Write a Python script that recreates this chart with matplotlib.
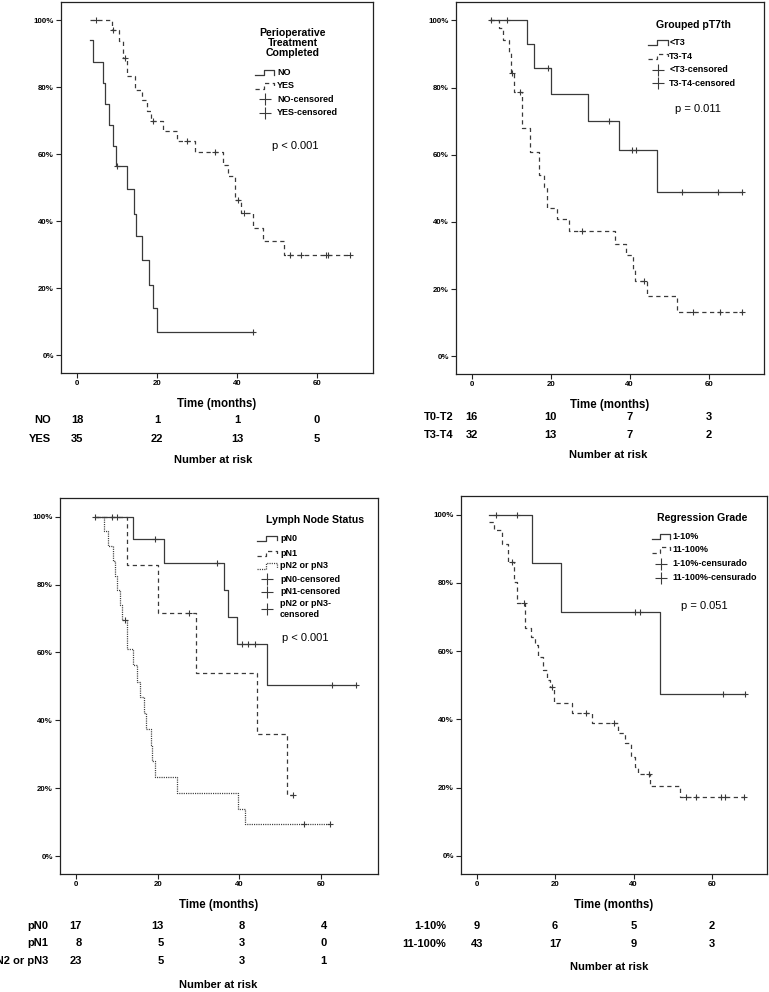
import matplotlib
matplotlib.use('Agg')
import matplotlib.pyplot as plt
from matplotlib.lines import Line2D
from matplotlib.transforms import blended_transform_factory

plt.rcParams['font.family'] = ['Liberation Sans', 'DejaVu Sans']

W, H = 769, 992

# ---- Perioperative treatment completed ----
no_t = [3.3, 4.0, 6.5, 7.1, 7.9, 9.1, 9.8, 12.6, 14.3, 14.8, 16.2, 18.1, 19.1, 20.0, 44.0]
no_s = [94.2, 87.6, 81.4, 75.0, 68.9, 62.6, 56.4, 49.7, 42.3, 35.5, 28.3, 21.1, 14.1, 7.0, 7.0]
no_ct = [10.0, 44.0]
no_cs = [56.4, 7.0]
yes_t = [3.3, 8.7, 10.4, 11.5, 12.5, 14.4, 16.2, 17.5, 18.4, 21.4, 24.9, 29.5, 36.6, 37.8,
         39.5, 41.1, 44.0, 46.5, 51.8, 68.2]
yes_s = [100, 97.2, 93.9, 88.8, 83.3, 79.3, 76.3, 72.8, 70.1, 66.9, 63.9, 60.7, 56.9, 53.4,
         46.5, 42.5, 38.0, 34.0, 29.8, 29.8]
yes_ct = [4.7, 9.1, 12.0, 19.1, 27.6, 34.5, 40.2, 41.8, 53.2, 56.0, 62.2, 62.7, 68.2]
yes_cs = [100, 97.2, 88.8, 70.1, 63.9, 60.7, 46.5, 42.5, 29.8, 29.8, 29.8, 29.8, 29.8]
risk_no = [18, 1, 1, 0]
risk_yes = [35, 22, 13, 5]

# ---- Grouped pT7th ----
lt3_t = [4.6, 13.9, 15.8, 20.0, 29.5, 37.3, 46.8, 68.4]
lt3_s = [100, 93.0, 85.8, 78.0, 70.2, 61.4, 49.0, 49.0]
lt3_ct = [4.9, 9.0, 19.2, 34.8, 40.5, 41.6, 53.3, 62.4, 68.4]
lt3_cs = [100, 100, 85.8, 70.2, 61.4, 61.4, 49.0, 49.0, 49.0]
t34_t = [4.6, 7.0, 8.0, 9.5, 10.0, 10.7, 12.7, 14.8, 16.9, 18.3, 19.0, 21.5, 24.7, 36.3,
         39.0, 40.9, 41.3, 44.3, 51.9, 68.4]
t34_s = [100, 97.7, 94.2, 90.7, 84.5, 78.8, 68.1, 60.9, 54.1, 50.4, 44.2, 41.0, 37.3, 33.5,
         30.1, 26.1, 22.3, 17.9, 13.3, 13.3]
t34_ct = [10.3, 12.2, 27.8, 43.6, 56.0, 62.9, 68.4]
t34_cs = [84.5, 78.8, 37.3, 22.3, 13.3, 13.3, 13.3]
risk_t02 = [16, 10, 7, 3]
risk_t34 = [32, 13, 7, 2]

# ---- Lymph node status ----
pn0_t = [4.7, 13.9, 21.5, 36.2, 37.2, 39.4, 46.7, 68.5]
pn0_s = [100, 93.4, 86.3, 78.4, 70.5, 62.6, 50.3, 50.3]
pn0_ct = [4.7, 8.8, 10.0, 19.2, 34.6, 40.6, 42.0, 43.8, 62.7, 68.5]
pn0_cs = [100, 100, 100, 93.4, 86.3, 62.6, 62.6, 62.6, 50.3, 50.3]
pn1_t = [4.7, 12.5, 20.0, 29.4, 44.3, 51.8, 53.2]
pn1_s = [100, 85.8, 71.5, 53.8, 36.0, 18.0, 18.0]
pn1_ct = [27.6, 53.2]
pn1_cs = [71.5, 18.0]
pn23_t = [5.0, 6.7, 7.7, 9.0, 9.6, 10.0, 10.6, 11.2, 12.5, 13.9, 14.8, 15.6, 16.6, 17.2,
          18.2, 18.6, 19.2, 24.6, 39.7, 41.4, 62.2]
pn23_s = [100, 95.7, 91.3, 87.0, 82.6, 78.3, 73.9, 69.6, 60.9, 56.2, 51.4, 46.8, 42.1, 37.4,
          32.8, 28.1, 23.4, 18.7, 14.0, 9.4, 9.4]
pn23_ct = [12.0, 55.9, 62.2]
pn23_cs = [69.6, 9.4, 9.4]
risk_pn0 = [17, 13, 8, 4]
risk_pn1 = [8, 5, 3, 0]
risk_pn23 = [23, 5, 3, 1]

# ---- Regression grade ----
g1_t = [3.2, 14.0, 21.5, 46.7, 68.3]
g1_s = [100, 85.8, 71.6, 47.6, 47.6]
g1_ct = [4.9, 10.3, 40.3, 41.6, 62.8, 68.3]
g1_cs = [100, 100, 71.6, 71.6, 47.6, 47.6]
g2_t = [3.2, 4.3, 6.4, 7.9, 9.4, 10.4, 12.4, 13.8, 14.8, 15.7, 16.8, 17.9, 18.6, 19.6,
        24.4, 29.3, 36.0, 37.7, 39.4, 40.3, 41.0, 44.3, 51.8, 68.1]
g2_s = [97.8, 95.6, 91.5, 86.3, 80.2, 74.1, 66.9, 64.2, 61.8, 58.4, 54.5, 51.6, 49.5, 44.7,
        41.8, 39.1, 36.0, 33.0, 29.1, 26.2, 24.1, 20.6, 17.2, 17.2]
g2_ct = [8.9, 12.1, 19.2, 27.8, 34.9, 43.9, 53.3, 56.0, 62.3, 63.2, 68.1]
g2_cs = [86.3, 74.1, 49.5, 41.8, 39.1, 24.1, 17.2, 17.2, 17.2, 17.2, 17.2]
risk_g1 = [9, 6, 5, 2]
risk_g2 = [43, 17, 9, 3]

risk_times = [0, 20, 40, 60]

LC = '#3a3a3a'
solid = dict(color=LC, lw=0.9, ls='-')
dashed = dict(color=LC, lw=0.9, ls=(0, (3.4, 2.8)))
dotted = dict(color=LC, lw=0.9, ls=(0, (0.9, 0.9)))

fig = plt.figure(figsize=(W / 100, H / 100), dpi=100)


def fy(y):
    return 1 - y / H


def ftext(x, y, s, **kw):
    fig.text(x / W, fy(y), s, **kw)


def fline(xs, ys, **kw):
    fig.add_artist(Line2D([x / W for x in xs], [fy(y) for y in ys],
                          transform=fig.transFigure, **kw))


def panel(l, t, r, b):
    ax = fig.add_axes([l / W, fy(b), (r - l) / W, (b - t) / H])
    ax.set_xlim(-4, 74)
    ax.set_ylim(-5.3, 105.5)
    ax.set_xticks([0, 20, 40, 60])
    ax.set_yticks([0, 20, 40, 60, 80, 100])
    ax.set_yticklabels([f'{v}%' for v in range(0, 101, 20)])
    ax.tick_params(labelsize=5.7, length=3.5, width=0.8, pad=1.5, color='#222')
    for lab in ax.get_xticklabels() + ax.get_yticklabels():
        lab.set_fontweight('bold')
    for sp in ax.spines.values():
        sp.set_color('#222')
        sp.set_linewidth(0.9)
    return ax


def curve(ax, t, s, ct, cs, style):
    ax.step(t, s, where='post', **style)
    ax.plot(ct, cs, ls='none', marker='+', ms=5, mew=0.8, color=LC)


def legend(x0, x1, xt, rows_lines, rows_plus, labels, styles):
    h = 5.5
    xm = x0 + (x1 - x0) * 0.47
    for y, st in zip(rows_lines, styles):
        fline([x0, xm, xm, x1, x1], [y + h / 2, y + h / 2, y - h / 2, y - h / 2, y + h / 3], **st)
    for y in rows_plus:
        fline([(x0 + x1) / 2], [y], ls='none', marker='+', ms=8, mew=0.8, color=LC)
    for y, lab in zip(list(rows_lines) + list(rows_plus), labels):
        ftext(xt, y, lab, fontsize=6.5, fontweight='bold', ha='left', va='center')


def risk_table(ax, rows_y, names, values, lab_x, lab_ha, num_ha='center', dx=0):
    tr = blended_transform_factory(ax.transData, fig.transFigure)
    for y, name, vals in zip(rows_y, names, values):
        ftext(lab_x, y, name, fontsize=8, fontweight='bold', ha=lab_ha, va='center')
        for tm, v in zip(risk_times, vals):
            ax.text(tm + dx, fy(y), str(v), transform=tr, fontsize=8, fontweight='bold',
                    ha=num_ha, va='center')


# ---------- panel 1 ----------
ax1 = panel(61, 2, 373, 373)
curve(ax1, no_t, no_s, no_ct, no_cs, solid)
curve(ax1, yes_t, yes_s, yes_ct, yes_cs, dashed)
ftext(292.7, 43, 'Perioperative\nTreatment\nCompleted', fontsize=7.6, fontweight='bold',
      ha='center', va='center', linespacing=1.0)
legend(255, 274, 277, [72.7, 86], [99.3, 112.7],
       ['NO', 'YES', 'NO-censored', 'YES-censored'], [solid, dashed])
ftext(295, 145.7, 'p < 0.001', fontsize=8, ha='center', va='center')
ftext(216.7, 404, 'Time (months)', fontsize=8.3, fontweight='bold', ha='center', va='center')
risk_table(ax1, [420, 439], ['NO', 'YES'], [risk_no, risk_yes], 51, 'right')
ftext(213.3, 460, 'Number at risk', fontsize=8, fontweight='bold', ha='center', va='center')

# ---------- panel 2 ----------
ax2 = panel(456, 2, 764, 374)
curve(ax2, lt3_t, lt3_s, lt3_ct, lt3_cs, solid)
curve(ax2, t34_t, t34_s, t34_ct, t34_cs, dashed)
ftext(693.3, 25, 'Grouped pT7th', fontsize=7.6, fontweight='bold', ha='center', va='center')
legend(648.3, 667.7, 669.3, [42.7, 56.7], [70, 83.3],
       ['<T3', 'T3-T4', '<T3-censored', 'T3-T4-censored'], [solid, dashed])
ftext(698.3, 109, 'p = 0.011', fontsize=8, ha='center', va='center')
ftext(610, 405, 'Time (months)', fontsize=8.3, fontweight='bold', ha='center', va='center')
risk_table(ax2, [417, 435], ['T0-T2', 'T3-T4'], [risk_t02, risk_t34], 424.3, 'left')
ftext(608.3, 455, 'Number at risk', fontsize=8, fontweight='bold', ha='center', va='center')

# ---------- panel 3 ----------
ax3 = panel(60, 498, 378, 874)
curve(ax3, pn0_t, pn0_s, pn0_ct, pn0_cs, solid)
curve(ax3, pn1_t, pn1_s, pn1_ct, pn1_cs, dashed)
curve(ax3, pn23_t, pn23_s, pn23_ct, pn23_cs, dotted)
ftext(315, 520, 'Lymph Node Status', fontsize=7.6, fontweight='bold', ha='center', va='center')
legend(257.3, 276.7, 280, [538.3, 553.3, 566], [579, 592, 609],
       ['pN0', 'pN1', 'pN2 or pN3', 'pN0-censored', 'pN1-censored', 'pN2 or pN3-\ncensored'],
       [solid, dashed, dotted])
ftext(305, 638.3, 'p < 0.001', fontsize=8, ha='center', va='center')
ftext(218.3, 905, 'Time (months)', fontsize=8.3, fontweight='bold', ha='center', va='center')
risk_table(ax3, [926, 943, 961], ['pN0', 'pN1', 'pN2 or pN3'],
           [risk_pn0, risk_pn1, risk_pn23], 48.3, 'right', num_ha='right', dx=1.4)
ftext(218.3, 985, 'Number at risk', fontsize=8, fontweight='bold', ha='center', va='center')

# ---------- panel 4 ----------
ax4 = panel(461, 496, 767, 874)
curve(ax4, g1_t, g1_s, g1_ct, g1_cs, solid)
curve(ax4, g2_t, g2_s, g2_ct, g2_cs, dashed)
ftext(702.3, 518.3, 'Regression Grade', fontsize=7.6, fontweight='bold', ha='center', va='center')
legend(651.7, 670, 672.3, [536.7, 550], [564, 577.7],
       ['1-10%', '11-100%', '1-10%-censurado', '11-100%-censurado'], [solid, dashed])
ftext(704.3, 606, 'p = 0.051', fontsize=8, ha='center', va='center')
ftext(613.3, 905, 'Time (months)', fontsize=8.3, fontweight='bold', ha='center', va='center')
risk_table(ax4, [926, 944], ['1-10%', '11-100%'], [risk_g1, risk_g2], 446, 'right')
ftext(609, 967, 'Number at risk', fontsize=8, fontweight='bold', ha='center', va='center')

fig.savefig('out.png', dpi=100)
